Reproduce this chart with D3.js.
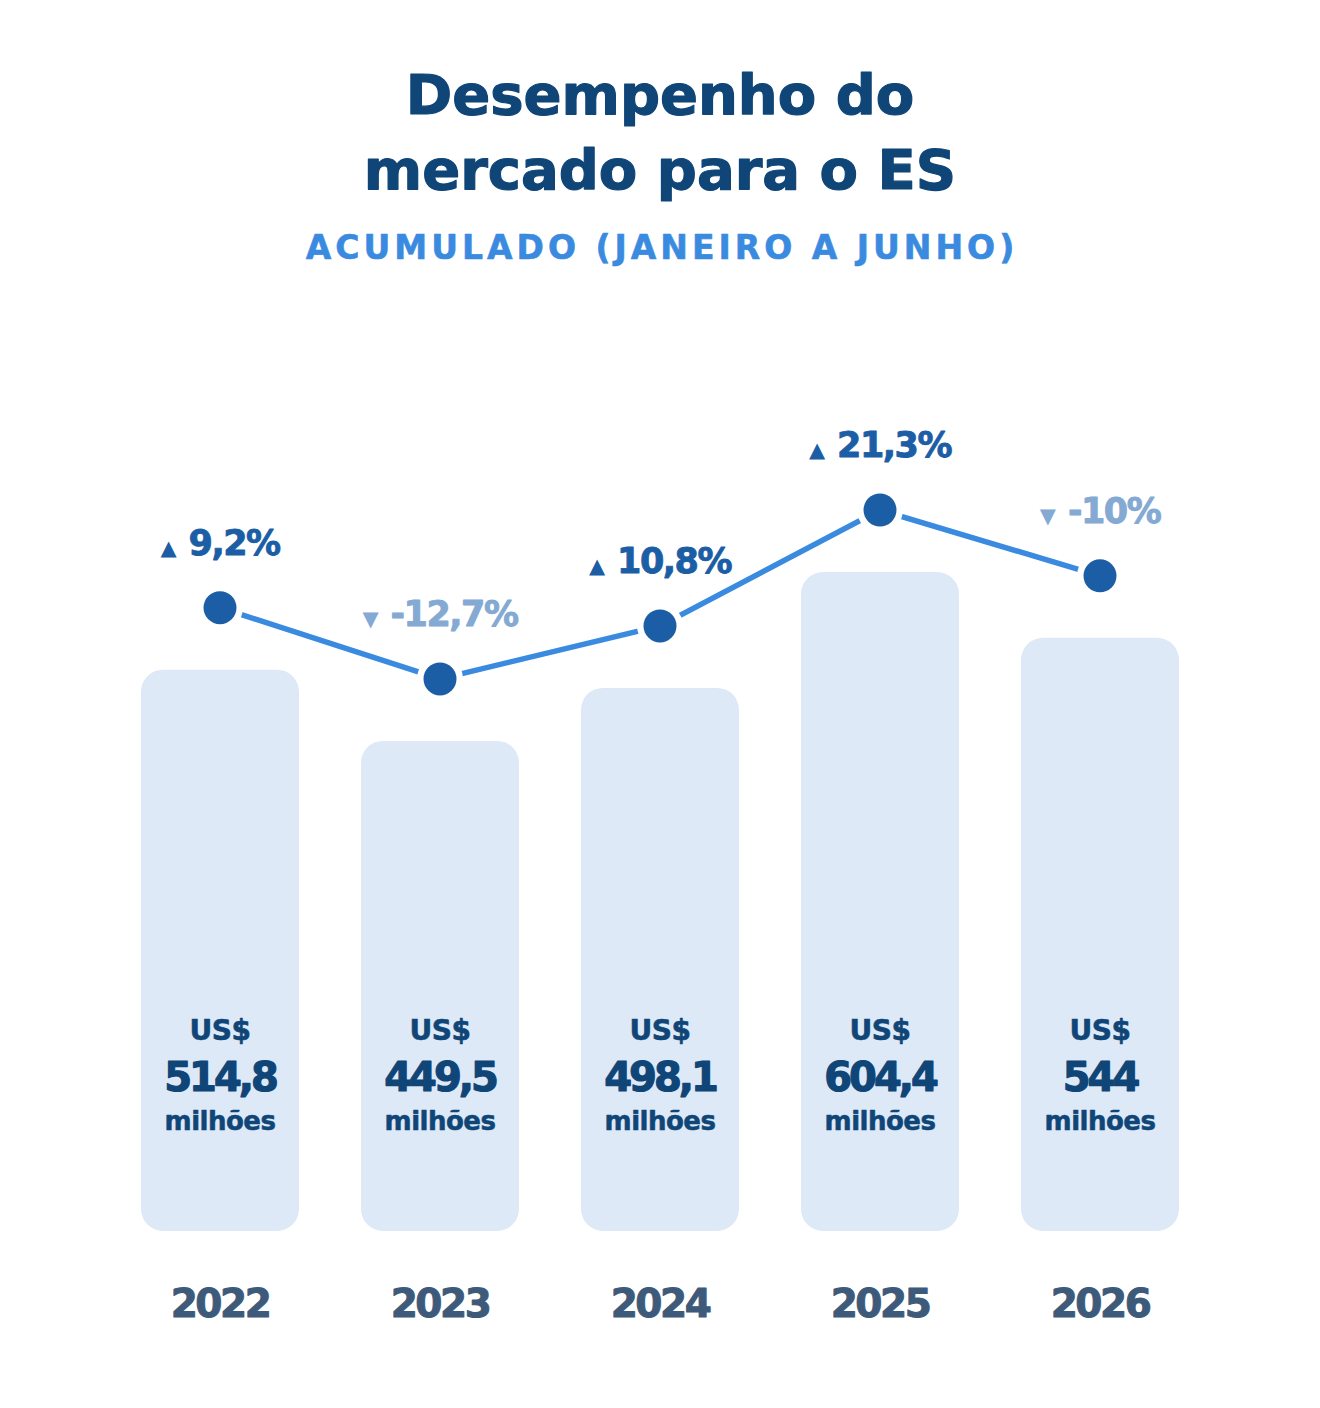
<!DOCTYPE html>
<html>
<head>
<meta charset="utf-8">
<script src="https://cdn.jsdelivr.net/npm/d3@7"></script>
<style>
  html, body { margin: 0; padding: 0; background: #ffffff; }
  svg { display: block; font-family: "DejaVu Sans", "Noto Sans", sans-serif; }
</style>
</head>
<body>
<svg id="chart" width="1320" height="1408"></svg>
<script>
// ---- data ----
const years = ["2022", "2023", "2024", "2025", "2026"];
const values = [514.8, 449.5, 498.1, 604.4, 544];
const valueLabels = ["514,8", "449,5", "498,1", "604,4", "544"];
const changes = [9.2, -12.7, 10.8, 21.3, -10];
const changeLabels = ["9,2%", "-12,7%", "10,8%", "21,3%", "-10%"];
const titleLines = ["Desempenho do", "mercado para o ES"];
const subtitle = "ACUMULADO (JANEIRO A JUNHO)";
const currencyLabel = "US$";
const unitLabel = "milhões";

// ---- layout ----
const W = 1320;
const svg = d3.select("#chart");
const baseY = 1231;

const x = d3.scaleBand().domain(years).range([110, 1210]).paddingInner(0.282).paddingOuter(0.141);
const y = d3.scaleLinear().domain([0, 604.4]).range([baseY, 572]);
const dotOffset = 62;

const colors = {
  title: "#0f4577",
  subtitle: "#3a8be0",
  bar: "#dde9f6",
  line: "#3a8be0",
  dot: "#1b5ea5",
  up: "#1b5ea5",
  down: "#84a9d3",
  value: "#0f4577",
  year: "#3e5a7a"
};

function heavy(sel, color, w) {
  return sel.attr("stroke", color).attr("stroke-width", w).attr("stroke-linejoin", "round");
}

// title
heavy(svg.append("g").selectAll("text").data(titleLines).join("text")
  .attr("x", W / 2)
  .attr("y", (d, i) => 114 + i * 75)
  .attr("text-anchor", "middle")
  .attr("font-size", 56)
  .attr("font-weight", 700)
  .attr("fill", colors.title)
  .text(d => d), colors.title, 1.2);

heavy(svg.append("text")
  .attr("x", W / 2 + 2)
  .attr("y", 259)
  .attr("text-anchor", "middle")
  .attr("font-size", 33)
  .attr("font-weight", 700)
  .attr("letter-spacing", 4)
  .attr("fill", colors.subtitle)
  .text(subtitle), colors.subtitle, 0.6);

// bars
const data = years.map((yr, i) => ({
  year: yr, value: values[i], label: valueLabels[i],
  change: changes[i], changeLabel: changeLabels[i]
}));

svg.append("g").selectAll("rect").data(data).join("rect")
  .attr("x", d => x(d.year))
  .attr("y", d => y(d.value))
  .attr("width", x.bandwidth())
  .attr("height", d => baseY - y(d.value))
  .attr("rx", 22)
  .attr("fill", colors.bar);

// value labels inside bars
const vl = svg.append("g").selectAll("g").data(data).join("g")
  .attr("transform", d => `translate(${x(d.year) + x.bandwidth() / 2},0)`);
heavy(vl.append("text").attr("y", 1040).attr("text-anchor", "middle")
  .attr("font-size", 28).attr("font-weight", 700).attr("fill", colors.value)
  .attr("letter-spacing", -0.5)
  .text(currencyLabel), colors.value, 0.6);
heavy(vl.append("text").attr("y", 1091).attr("text-anchor", "middle")
  .attr("font-size", 40).attr("font-weight", 700).attr("fill", colors.value)
  .attr("letter-spacing", -3)
  .text(d => d.label), colors.value, 1.2);
heavy(vl.append("text").attr("y", 1130).attr("text-anchor", "middle")
  .attr("font-size", 26).attr("font-weight", 700).attr("fill", colors.value)
  .attr("letter-spacing", -0.5)
  .text(unitLabel), colors.value, 0.5);

// year labels
heavy(svg.append("g").selectAll("text").data(data).join("text")
  .attr("x", d => x(d.year) + x.bandwidth() / 2)
  .attr("y", 1317)
  .attr("text-anchor", "middle")
  .attr("font-size", 39)
  .attr("font-weight", 700)
  .attr("letter-spacing", -2.5)
  .attr("fill", colors.year)
  .text(d => d.year), colors.year, 1);

// line
const cx = d => x(d.year) + x.bandwidth() / 2;
const cy = d => y(d.value) - dotOffset;
svg.append("path").datum(data)
  .attr("d", d3.line().x(cx).y(cy))
  .attr("fill", "none")
  .attr("stroke", colors.line)
  .attr("stroke-width", 5.5);

svg.append("g").selectAll("circle").data(data).join("circle")
  .attr("cx", cx).attr("cy", cy).attr("r", 23)
  .attr("fill", "#ffffff");
svg.append("g").selectAll("circle").data(data).join("circle")
  .attr("cx", cx).attr("cy", cy).attr("r", 16.5)
  .attr("fill", colors.dot);

// change labels
const cl = svg.append("g").selectAll("text").data(data).join("text")
  .attr("x", cx)
  .attr("y", d => cy(d) - 53)
  .attr("text-anchor", "middle")
  .attr("font-weight", 700)
  .attr("fill", d => d.change >= 0 ? colors.up : colors.down)
  .attr("stroke", d => d.change >= 0 ? colors.up : colors.down)
  .attr("stroke-width", 0.9)
  .attr("stroke-linejoin", "round");
cl.append("tspan").attr("font-size", 21).attr("stroke-width", 0).text(d => d.change >= 0 ? "▲" : "▼");
cl.append("tspan").attr("dx", 12).attr("font-size", 35).attr("letter-spacing", -1.5).text(d => d.changeLabel);
</script>
</body>
</html>
